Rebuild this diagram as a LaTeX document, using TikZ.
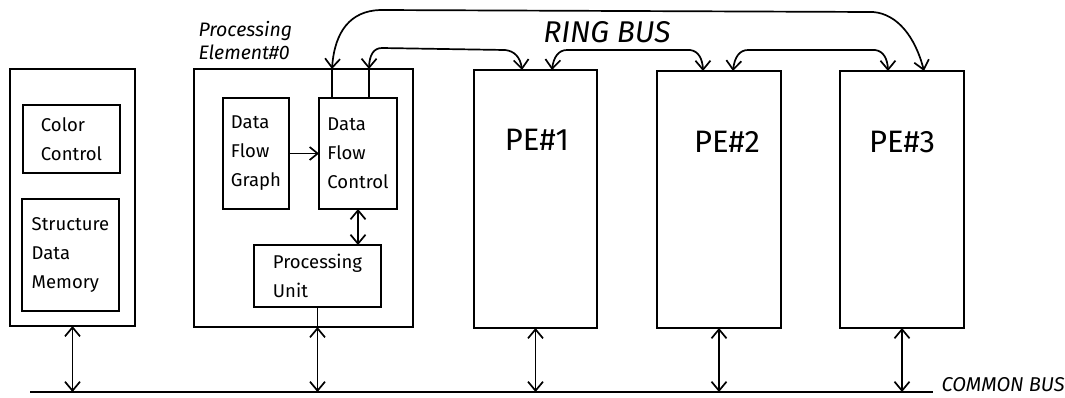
\documentclass[tikz,border=0pt]{standalone}
\usepackage{fontspec}
\setmainfont{Fira Sans}
\usetikzlibrary{arrows.meta,bending}
\begin{document}
\begin{tikzpicture}[x=1pt,y=-1pt,
  box/.style={draw,line width=1.9pt,inner sep=0pt,outer sep=0pt},
  txt/.style={align=left,font=\fontsize{18.5}{29}\selectfont},
  petxt/.style={font=\fontsize{31}{32}\selectfont},
  lbl/.style={font=\itshape\fontsize{30}{32}\selectfont},
  conn/.style={line width=1.7pt},
  bi/.style={conn,{Straight Barb[length=9pt,width=15pt]}-{Straight Barb[length=9pt,width=15pt]}},
  one/.style={conn,-{Straight Barb[length=8pt,width=13pt]}}]
\useasboundingbox (0,0) rectangle (1065,397);
% left unit
\node[box,minimum width=125pt,minimum height=257pt] (mem) at (72.5,197.5) {};
\node[box,txt,minimum width=97pt,minimum height=68pt] (cc) at (71.5,139) {Color\\Control};
\node[box,txt,minimum width=97pt,minimum height=112pt] (sdm) at (70.5,255) {Structure\\Data\\Memory};
% PE0
\node[box,minimum width=219pt,minimum height=258pt] (pe0) at (303.5,198) {};
\node[anchor=north west,align=left,font=\itshape\fontsize{19.5}{23}\selectfont] (pe0l) at (195,18) {Processing\\Element\#0};
\node[box,txt,minimum width=66pt,minimum height=111pt] (dfg) at (256,153.5) {Data\\Flow\\Graph};
\node[box,txt,minimum width=78pt,minimum height=111pt] (dfc) at (358,153.5) {Data\\Flow\\Control};
\node[box,txt,minimum width=127pt,minimum height=62pt] (pu) at (317.5,276) {Processing\\Unit};
% other PEs
\node[box,minimum width=123pt,minimum height=258pt] (pe1) at (535.5,199) {};
\node[box,minimum width=124pt,minimum height=257pt] (pe2) at (719,199.5) {};
\node[box,minimum width=124pt,minimum height=257pt] (pe3) at (902,199.5) {};
\node[petxt] (pe1l) at (537,140) {PE\#1};
\node[petxt] (pe2l) at (727,142) {PE\#2};
\node[petxt] (pe3l) at (902,142) {PE\#3};
% labels
\node[lbl] (ring) at (607,32) {RING BUS};
\node[anchor=west,font=\itshape\fontsize{20}{22}\selectfont] (cbus) at (938,385) {COMMON BUS};
% common bus
\coordinate (busL) at (30,392);
\coordinate (busR) at (933,392);
\draw[line width=1.9pt] (busL) -- (busR);
\draw[bi] (mem.south) -- (mem.south |- busL);
\draw[conn] (pu.south) -- (pu.south |- pe0.south);
\draw[bi] (pu.south |- pe0.south) -- (pu.south |- busL);
\draw[bi] (pe1.south) -- (pe1.south |- busL);
\draw[bi] (pe2.south) -- (pe2.south |- busL);
\draw[bi] (pe3.south) -- (pe3.south |- busL);
% internal
\draw[one] (dfg.east) -- (dfg.east -| dfc.west);
\draw[bi] (dfc.south) -- (dfc.south |- pu.north);
% ring bus
\coordinate (r0a) at (332,69);
\coordinate (r0b) at (369,69);
\coordinate (r1a) at (522,70);
\coordinate (r1b) at (552,70);
\coordinate (r2a) at (703,71);
\coordinate (r2b) at (733,71);
\coordinate (r3a) at (888,71);
\coordinate (r3b) at (924,71);
\draw[conn] (dfc.north -| r0a) -- (r0a);
\draw[conn] (dfc.north -| r0b) -- (r0b);
\draw[bi] (r0a) .. controls (334,32) and (350,11) .. (380,10) -- (873,12) .. controls (898,14) and (916,38) .. (r3b);
\draw[bi] (r0b) .. controls (369,56) and (373,48) .. (382,48) -- (505,50) .. controls (515,51) and (521,58) .. (r1a);
\draw[bi] (r1b) .. controls (553,58) and (558,50) .. (567,50) -- (690,50) .. controls (699,51) and (703,60) .. (r2a);
\draw[bi] (r2b) .. controls (734,58) and (739,50) .. (748,50) -- (875,50) .. controls (884,51) and (888,60) .. (r3a);
\end{tikzpicture}
\end{document}
